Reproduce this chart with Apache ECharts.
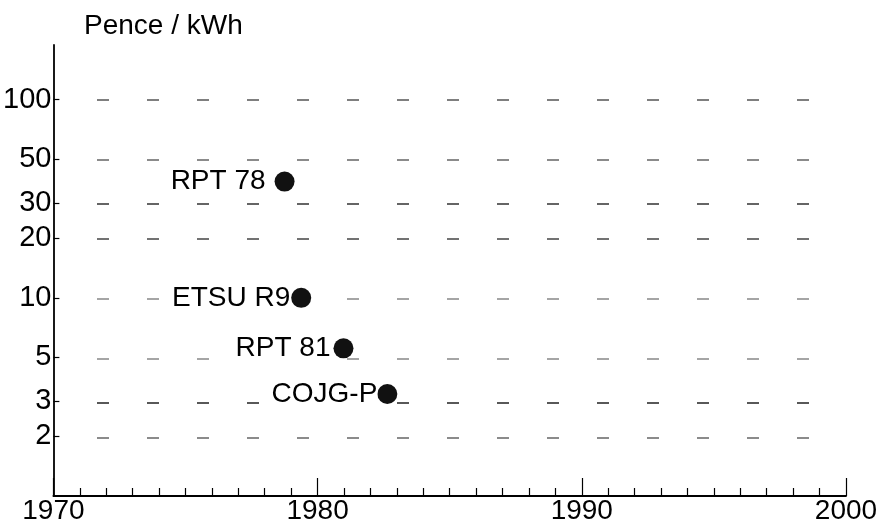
<!DOCTYPE html>
<html>
<head>
<meta charset="utf-8">
<script src="https://cdn.jsdelivr.net/npm/echarts@6/dist/echarts.min.js"></script>
<style>
  html, body { margin: 0; padding: 0; background: #fff; }
  #chart { width: 887px; height: 525px; }
</style>
</head>
<body>
<div id="chart"></div>
<script>
// Cost estimates (pence per kWh) by year of publication
const reportNames = ['RPT 78', 'ETSU R9', 'RPT 81', 'COJG-P'];
const reportYears = [1978.75, 1979.38, 1980.98, 1982.64];
const costPence = [38.6, 10, 5.56, 3.27];

// Labelled values on the logarithmic cost axis
const costTicks = [2, 3, 5, 10, 20, 30, 50, 100];

const FONT = '"Liberation Sans", Arial, Helvetica, sans-serif';
const INK = '#000';
const Y_MIN = 1;
const Y_MAX = 188.8;

// Gap between each label and its dot
const labelGaps = [9, 1, 3, 0];
// One colour per dashed guide, in the order of costTicks
const guideColors = ['#666', '#222', '#888', '#888', '#444', '#333', '#666', '#555'];

const chart = echarts.init(document.getElementById('chart'), null, { renderer: 'canvas' });

chart.setOption({
  animation: false,
  backgroundColor: '#fff',
  title: {
    text: 'Pence / kWh',
    left: 79,
    top: 7,
    textStyle: { fontFamily: FONT, fontSize: 28, fontWeight: 'normal', color: INK }
  },
  grid: [
    { left: 52, right: 41, top: 45, bottom: 27 },
    // narrower grid that only carries the dashed guides
    { left: 97, width: 712, top: 45, bottom: 27 }
  ],
  xAxis: [
    {
      gridIndex: 0,
      type: 'value',
      min: 1970,
      max: 2000,
      interval: 10,
      axisLine: { show: true, lineStyle: { color: INK, width: 1.8 } },
      axisTick: { show: true, inside: true, length: 18, lineStyle: { color: INK, width: 1.2 } },
      minorTick: { show: true, splitNumber: 10, length: 8, lineStyle: { color: INK, width: 1.2 } },
      axisLabel: {
        fontFamily: FONT, fontSize: 28, color: INK, margin: 1,
        formatter: v => String(v)
      },
      splitLine: { show: false }
    },
    { gridIndex: 1, type: 'value', min: 0, max: 1, show: false }
  ],
  yAxis: [
    {
      gridIndex: 0,
      type: 'log',
      logBase: 10,
      min: Y_MIN,
      max: Y_MAX,
      axisLine: { show: true, lineStyle: { color: INK, width: 1.8 } },
      axisTick: { show: true, inside: true, length: 6, customValues: costTicks, lineStyle: { color: INK, width: 1.2 } },
      axisLabel: {
        customValues: costTicks,
        fontFamily: FONT, fontSize: 29, color: INK, margin: 2,
        formatter: v => String(Math.round(v))
      },
      splitLine: { show: false }
    },
    {
      gridIndex: 1,
      type: 'log',
      logBase: 10,
      min: Y_MIN,
      max: Y_MAX,
      axisLine: { show: false },
      axisLabel: { show: false, customValues: costTicks },
      axisTick: { show: false, customValues: costTicks },
      splitLine: { show: true, lineStyle: { type: [12, 38], color: guideColors, width: 1.5 } }
    }
  ],
  series: [{
    type: 'scatter',
    xAxisIndex: 0,
    yAxisIndex: 0,
    symbol: 'circle',
    symbolSize: 20,
    itemStyle: { color: '#111', opacity: 1 },
    z: 5,
    label: {
      show: true,
      position: 'left',
      fontFamily: FONT,
      fontSize: 28,
      color: INK,
      opacity: 1,
      backgroundColor: '#fff',
      padding: [0, 0, 0, 3],
      formatter: p => p.name
    },
    data: reportNames.map((name, i) => ({
      name: name,
      value: [reportYears[i], costPence[i]],
      label: { distance: labelGaps[i] }
    }))
  }]
});
</script>
</body>
</html>
